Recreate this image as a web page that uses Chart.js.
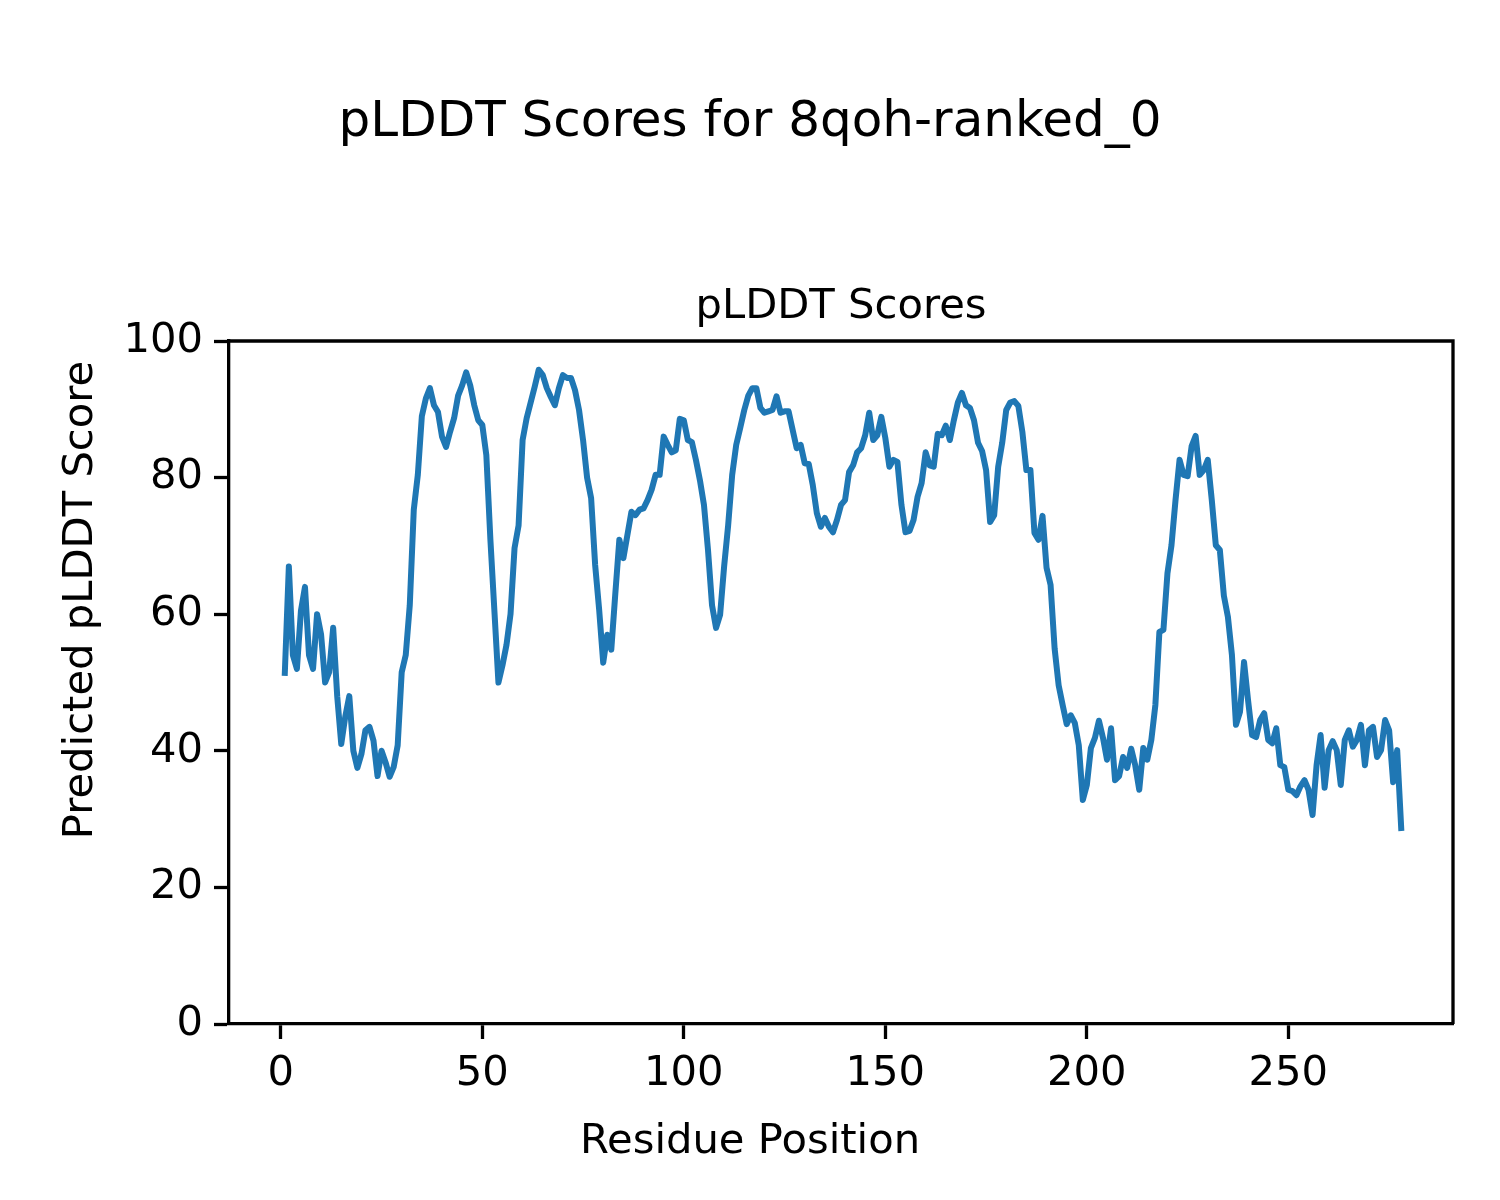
<!DOCTYPE html>
<html>
<head>
<meta charset="utf-8">
<title>pLDDT Scores for 8qoh-ranked_0</title>
<script src="https://cdn.jsdelivr.net/npm/chart.js@4.4.0/dist/chart.umd.min.js"></script>
<style>
html, body { margin: 0; padding: 0; background: #fff; }
#wrap { width: 1500px; height: 1200px; }
</style>
</head>
<body>
<div id="wrap"><canvas id="chartPlddt" width="1500" height="1200"></canvas></div>
<script>
const figTitle = 'pLDDT Scores for 8qoh-ranked_0';
const axTitle = 'pLDDT Scores';
const xLabel = 'Residue Position';
const yLabel = 'Predicted pLDDT Score';

const xTicks = [0, 50, 100, 150, 200, 250];
const yTicks = [0, 20, 40, 60, 80, 100];

// pLDDT per residue (residue 1 .. 278)
const scores = [
    51.4, 67, 54, 52, 60.5, 64, 54, 52, 60, 57,
    50, 51.5, 58, 48, 41, 45, 48, 40, 37.5, 39.5,
    43, 43.5, 41.5, 36.3, 40, 38.3, 36.2, 37.6, 40.8, 51.5,
    54, 61.3, 75.3, 80.4, 89, 91.6, 93.1, 90.6, 89.6, 86,
    84.5, 86.7, 88.7, 92, 93.5, 95.4, 93.5, 90.6, 88.4, 87.7,
    83.3, 71, 60.5, 50, 52.5, 55.5, 60, 69.7, 73, 85.5,
    88.7, 91, 93.3, 95.8, 95, 93.1, 91.8, 90.6, 93.1, 95,
    94.6, 94.6, 92.8, 89.9, 85.5, 80, 77, 67.2, 60.6, 52.9,
    57, 54.8, 63, 70.9, 68.2, 71.6, 75, 74.5, 75.3, 75.5,
    76.7, 78.2, 80.4, 80.4, 86, 84.8, 83.7, 84, 88.6, 88.4,
    85.5, 85.2, 82.6, 79.6, 76, 69.4, 61.3, 58, 59.9, 67,
    73, 80.4, 84.8, 87.3, 89.9, 92, 93.1, 93.1, 90.2, 89.5,
    89.7, 89.9, 91.9, 89.5, 89.7, 89.7, 87, 84.3, 84.8, 82.1,
    82, 78.9, 74.8, 72.8, 74.1, 72.8, 72, 73.8, 76, 76.7,
    80.8, 81.8, 83.7, 84.3, 86.2, 89.5, 85.5, 86.2, 88.9, 85.8,
    81.6, 82.6, 82.3, 76, 72, 72.2, 73.8, 77.2, 79.2, 83.7,
    81.8, 81.6, 86.4, 86.2, 87.6, 85.5, 88.4, 91, 92.4, 90.6,
    90.2, 88.4, 85.1, 83.9, 81.1, 73.5, 74.5, 81.6, 85.1, 89.9,
    91, 91.2, 90.5, 86.7, 81.1, 81.1, 71.9, 70.9, 74.4, 66.8,
    64.3, 55, 49.6, 46.7, 43.9, 45.2, 44.1, 40.8, 32.8, 35,
    40.4, 41.9, 44.4, 41.9, 38.7, 43.3, 35.7, 36.3, 39.1, 37.5,
    40.3, 37.9, 34.3, 40.4, 38.7, 41.6, 46.7, 57.4, 57.7, 66,
    70.1, 76.7, 82.6, 80.4, 80.2, 84.6, 86.1, 80.4, 81.1, 82.6,
    76.7, 70.1, 69.4, 62.7, 59.6, 54, 43.8, 45.7, 53, 47.4,
    42.3, 42, 44.5, 45.5, 41.6, 41.1, 43.3, 37.9, 37.6, 34.3,
    34.1, 33.5, 34.8, 35.7, 34.3, 30.6, 37.9, 42.3, 34.6, 40.1,
    41.4, 40.1, 35, 41.6, 43, 40.6, 41.6, 43.8, 37.9, 43,
    43.5, 39.1, 40.1, 44.5, 43, 35.4, 40.1, 28.7
];

let residues = [];
for (let i = 1; i <= scores.length; i++) {
    residues.push(i);
}

const fontFamily = '"DejaVu Sans", "Liberation Sans", sans-serif';

// titles, supxlabel / supylabel and the top/right spines
let figureText = {
    id: 'figureText',
    afterDraw(chart) {
        let ctx = chart.ctx;
        let area = chart.chartArea;
        ctx.save();
        ctx.strokeStyle = '#000';
        ctx.lineWidth = 3.3;
        ctx.beginPath();
        ctx.moveTo(area.left, area.top);
        ctx.lineTo(area.right, area.top);
        ctx.lineTo(area.right, area.bottom);
        ctx.stroke();

        ctx.fillStyle = '#000';
        ctx.textAlign = 'center';
        ctx.textBaseline = 'alphabetic';
        ctx.font = '50px ' + fontFamily;
        ctx.fillText(figTitle, 750, 136);

        ctx.font = '41.7px ' + fontFamily;
        ctx.fillText(axTitle, (area.left + area.right) / 2, 318);
        ctx.fillText(xLabel, 750, 1153);

        ctx.translate(92, 600);
        ctx.rotate(-Math.PI / 2);
        ctx.fillText(yLabel, 0, 0);
        ctx.restore();
    }
};

let contextPlddt = document.querySelector('#chartPlddt').getContext('2d');

let config = {
    type: 'line',
    data: {
        datasets: [{
            label: 'pLDDT',
            data: residues.map((r, i) => ({ x: r, y: scores[i] })),
            borderColor: '#1f77b4',
            borderWidth: 6,
            borderJoinStyle: 'round',
            borderCapStyle: 'square',
            pointRadius: 0,
            tension: 0,
            fill: false
        }]
    },
    options: {
        responsive: false,
        devicePixelRatio: 1,
        animation: false,
        layout: {
            padding: { top: 341, right: 47, left: 0, bottom: 0 }
        },
        plugins: {
            legend: { display: false },
            tooltip: { enabled: false }
        },
        scales: {
            x: {
                type: 'linear',
                min: -12.85,
                max: 290.85,
                afterBuildTicks: scale => { scale.ticks = xTicks.map(v => ({ value: v })); },
                afterFit: scale => { scale.height = 176; },
                ticks: {
                    color: '#000',
                    font: { family: fontFamily, size: 41.7 },
                    padding: 10,
                    maxRotation: 0,
                    autoSkip: false
                },
                grid: {
                    drawOnChartArea: false,
                    tickLength: 15,
                    tickWidth: 3.3,
                    tickColor: '#000'
                },
                border: { display: true, color: '#000', width: 3.3 }
            },
            y: {
                min: 0,
                max: 100,
                afterBuildTicks: scale => { scale.ticks = yTicks.map(v => ({ value: v })); },
                afterFit: scale => { scale.width = 229; },
                ticks: {
                    color: '#000',
                    font: { family: fontFamily, size: 41.7 },
                    padding: 11,
                    autoSkip: false
                },
                grid: {
                    drawOnChartArea: false,
                    tickLength: 15,
                    tickWidth: 3.3,
                    tickColor: '#000'
                },
                border: { display: true, color: '#000', width: 3.3 }
            }
        }
    },
    plugins: [figureText]
};

let chartPlddt = new Chart(contextPlddt, config);
</script>
</body>
</html>
